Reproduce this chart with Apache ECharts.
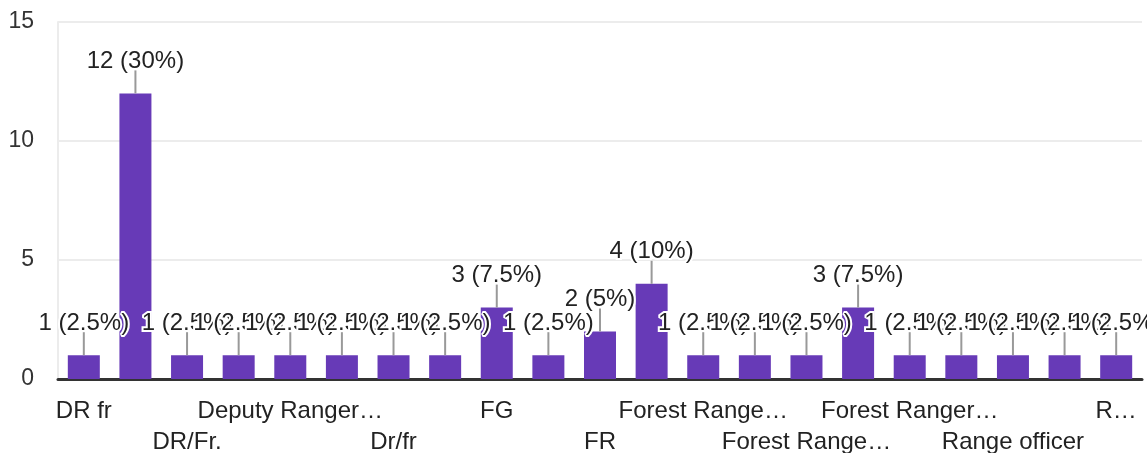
<!DOCTYPE html>
<html>
<head>
<meta charset="utf-8">
<script src="https://cdn.jsdelivr.net/npm/echarts@6/dist/echarts.min.js"></script>
<style>
  html, body { margin: 0; padding: 0; background: #fff; }
  #chart { width: 1147px; height: 453px; }
</style>
</head>
<body>
<div id="chart"></div>
<script>
// answers (sorted like the form summary)
const categories = [
  'DR fr', 'DR/FR', 'DR/Fr.', 'Deputy Ranger', 'Deputy Ranger Forester',
  'Deputy Ranger/Forester', 'Dr/fr', 'F.G.', 'FG', 'FORESTER', 'FR',
  'Forest Guard', 'Forest Range Officer', 'Forest Range officer',
  'Forest Range Officer (FR)', 'Forest Ranger', 'Forest Ranger Officer',
  'Forester', 'Range officer', 'Range Officer', 'Ranger'
];
const counts = [1, 12, 1, 1, 1, 1, 1, 1, 3, 1, 2, 4, 1, 1, 1, 3, 1, 1, 1, 1, 1];
// what is printed under the axis (every second answer, truncated)
const tickLabels = [
  'DR fr', '', 'DR/Fr.', '', 'Deputy Ranger…', '', 'Dr/fr', '', 'FG', '', 'FR',
  '', 'Forest Range…', '', 'Forest Range…', '', 'Forest Ranger…', '',
  'Range officer', '', 'R…'
];
const yTicks = [0, 5, 10, 15];

const total = counts.reduce((a, b) => a + b, 0);
const FONT = '"Liberation Sans", Arial, sans-serif';

const chart = echarts.init(document.getElementById('chart'));

chart.setOption({
  animation: false,
  grid: { left: 58, right: 5, top: 22, bottom: 74, containLabel: false, outerBoundsMode: 'none' },
  xAxis: {
    type: 'category',
    data: categories,
    axisTick: { show: false },
    axisLine: { lineStyle: { color: '#333', width: 3 } },
    axisLabel: {
      interval: 1,
      margin: 17,
      fontFamily: FONT,
      fontSize: 24,
      lineHeight: 31,
      color: '#222',
      formatter: function (v, i) {
        return i % 4 === 2 ? '\n' + tickLabels[i] : tickLabels[i];
      }
    }
  },
  yAxis: {
    type: 'value',
    min: yTicks[0],
    max: yTicks[yTicks.length - 1],
    interval: 5,
    axisLine: { show: true, lineStyle: { color: '#ececec', width: 2 } },
    axisTick: { show: false },
    splitLine: { lineStyle: { color: '#ececec', width: 2 } },
    axisLabel: {
      margin: 24,
      fontFamily: FONT,
      fontSize: 23,
      color: '#333'
    }
  },
  series: [
    {
      type: 'custom',
      z: 3,
      data: counts.map((v, i) => [i, v]),
      renderItem: function (params, api) {
        const p = api.coord([api.value(0), api.value(1)]);
        return {
          type: 'line',
          shape: { x1: p[0], y1: p[1], x2: p[0], y2: p[1] - 23 },
          style: { stroke: '#999', lineWidth: 2 }
        };
      }
    },
    {
      type: 'bar',
      z: 2,
      data: counts,
      barWidth: 32,
      itemStyle: { color: '#673ab7' },
      label: {
        show: true,
        position: 'top',
        distance: 20,
        fontFamily: FONT,
        fontSize: 24,
        color: '#222',
        textBorderColor: '#fff',
        textBorderWidth: 4,
        formatter: function (p) {
          const pct = Math.round(p.value / total * 1000) / 10;
          return p.value + ' (' + pct + '%)';
        }
      }
    }
  ]
});
</script>
</body>
</html>
